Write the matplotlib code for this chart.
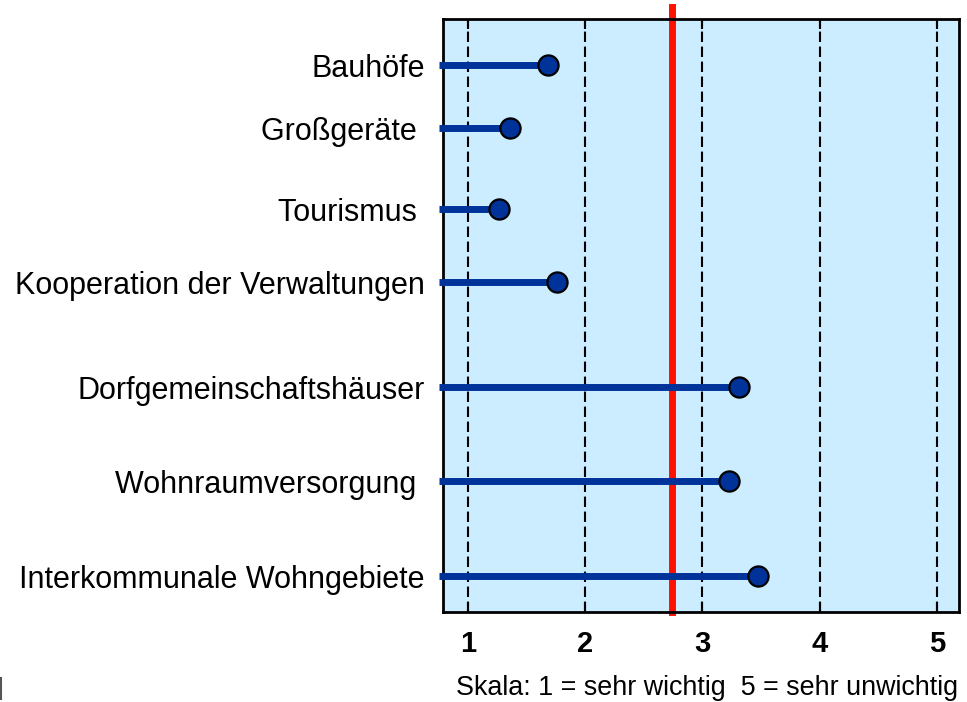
import matplotlib
matplotlib.use("Agg")
import matplotlib.pyplot as plt
from matplotlib.lines import Line2D

plt.rcParams['font.family'] = ['Liberation Sans', 'DejaVu Sans']

categories = ["Bauhöfe", "Großgeräte ", "Tourismus ", "Kooperation der Verwaltungen",
              "Dorfgemeinschaftshäuser", "Wohnraumversorgung ", "Interkommunale Wohngebiete"]
values = [1.68, 1.36, 1.27, 1.76, 3.315, 3.23, 3.477]
row_pos = [65, 128, 209, 282, 387, 481, 576]
mean_value = 2.742
line_start = 0.755
xticks = [1, 2, 3, 4, 5]
scale_note = "Skala: 1 = sehr wichtig  5 = sehr unwichtig"

fig = plt.figure(figsize=(9.67, 7.02), dpi=100)
ax = fig.add_axes([443/967, 1-612/702, (959-443)/967, (612-19)/702])
ax.set_facecolor('#CCECFF')
ax.set_xlim(0.789, 5.188)
ax.set_ylim(612, 19)

for x in xticks:
    ax.axvline(x, color='black', lw=1.5, linestyle=(0, (5, 2.2)), zorder=1)

ax.axvline(mean_value, ymin=0, ymax=(612-7)/(612-19), color='#FF1100', lw=5,
           clip_on=False, zorder=2)

for v, y in zip(values, row_pos):
    ax.plot([line_start, v], [y, y], color='#003399', lw=5, solid_capstyle='butt',
            clip_on=False, zorder=3)
    ax.plot([v], [y], marker='o', markersize=14.5, markerfacecolor='#003399',
            markeredgecolor='black', markeredgewidth=1.6, clip_on=False, zorder=4)

ax.set_yticks(row_pos)
ax.set_yticklabels(categories, fontsize=22)
ax.tick_params(axis='y', length=0, pad=13)
ax.set_xticks(xticks)
ax.set_xticklabels([str(t) for t in xticks], fontsize=21, fontweight='bold')
ax.tick_params(axis='x', direction='in', length=7, width=1.5, top=True, pad=13)
for s in ax.spines.values():
    s.set_linewidth(2)

fig.text(958/967, 1-688/702, scale_note, fontsize=19.4, ha='right', va='center')
fig.add_artist(Line2D([1/967, 1/967], [1-678/702, 1-699/702], color='#555555', lw=1.5))

fig.savefig('out.png', dpi=100)
